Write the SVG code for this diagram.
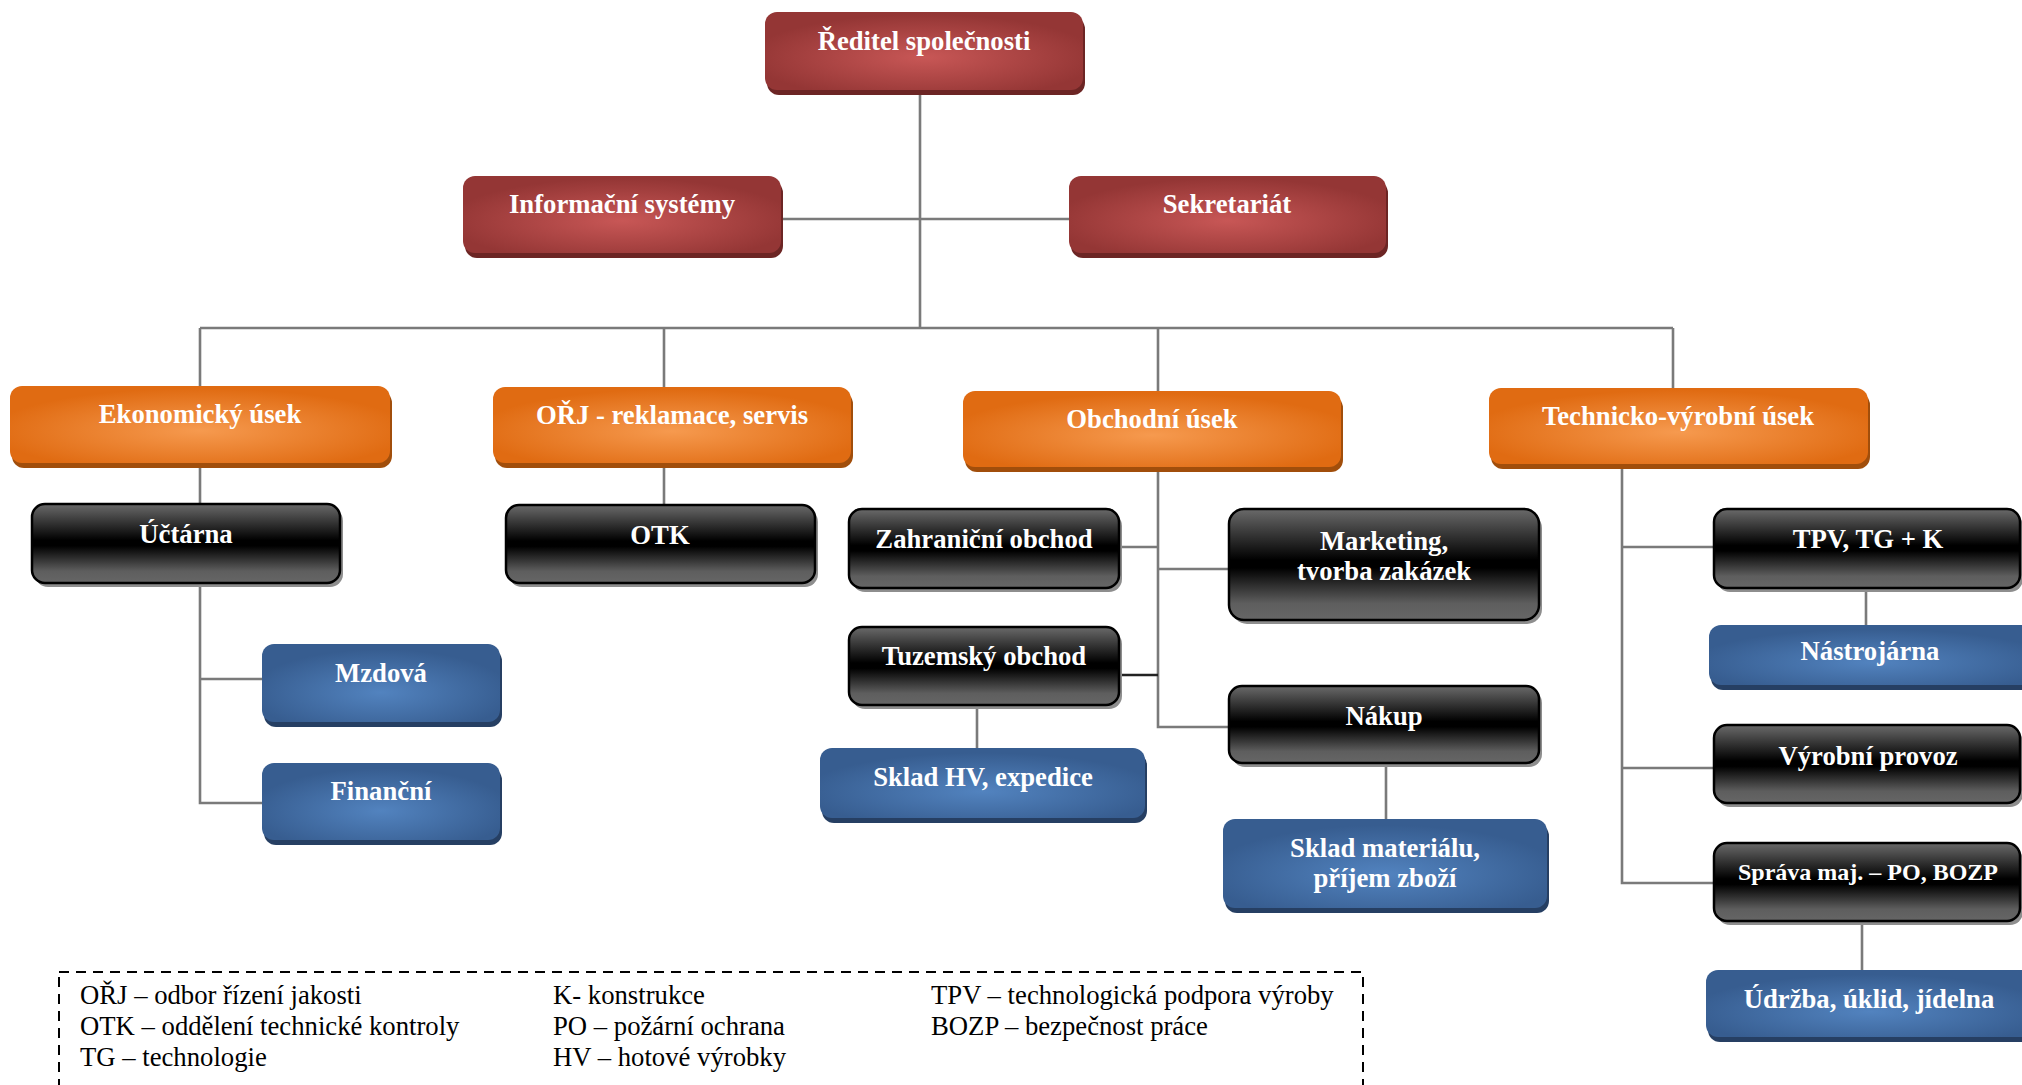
<svg xmlns="http://www.w3.org/2000/svg" width="2022" height="1085" viewBox="0 0 2022 1085">
<defs>
<radialGradient id="gRed" cx="50%" cy="58%" r="55%"><stop offset="0" stop-color="#c85756"/><stop offset="1" stop-color="#943635"/></radialGradient>
<radialGradient id="gOrange" cx="50%" cy="58%" r="55%"><stop offset="0" stop-color="#f69a4f"/><stop offset="1" stop-color="#e06b12"/></radialGradient>
<radialGradient id="gBlue" cx="50%" cy="62%" r="55%"><stop offset="0" stop-color="#5283bf"/><stop offset="1" stop-color="#375d90"/></radialGradient>
<linearGradient id="gBlack" x1="0" y1="0" x2="0" y2="1"><stop offset="0" stop-color="#6a6a6a"/><stop offset="0.46" stop-color="#000"/><stop offset="0.53" stop-color="#000"/><stop offset="0.85" stop-color="#5e5e5e"/><stop offset="1" stop-color="#666"/></linearGradient>
</defs>
<style>
.red .sh{fill:#6c2524}.red .bd{fill:url(#gRed)}
.orange .sh{fill:#a14e0b}.orange .bd{fill:url(#gOrange)}
.blue .sh{fill:#263f63}.blue .bd{fill:url(#gBlue)}
.black .sh{fill:#8e8e8e}.black .bd{fill:url(#gBlack);stroke:#000;stroke-width:2.5}
text.t{font-family:"Liberation Serif","Times New Roman",serif;font-weight:bold;font-size:26.7px;fill:#fff;text-anchor:middle}
text.l{font-family:"Liberation Serif","Times New Roman",serif;font-size:26.7px;fill:#000}
#connectors path{fill:none;stroke:#7a7a7a;stroke-width:2.6}
</style>
<rect width="2022" height="1085" fill="#fff"/>
<g id="connectors">
<path d="M920 93V328M781 219H1069M200 328H1673M200 328V386M664 328V387M1158 328V391M1673 328V388"/>
<path d="M200 468V504M200 587V803H263M200 679H263M664 467V505"/>
<path d="M1158 471V727H1229M1119 547H1158M1158 569H1229M977 709V748M1386 767V819"/>
<path d="M1119 675H1158" style="stroke:#222"/>
<path d="M1622 468V883H1714M1622 547H1714M1622 768H1714M1866 592V625M1862 925V970"/>
</g>
<g id="n-reditel" class="red"><rect class="sh" x="767" y="17" width="318" height="78" rx="12"/><rect class="bd" x="765" y="12" width="318" height="78" rx="12"/><text class="t" x="924" y="50">Ředitel společnosti</text></g>
<g id="n-info" class="red"><rect class="sh" x="465" y="181" width="318" height="77" rx="12"/><rect class="bd" x="463" y="176" width="318" height="77" rx="12"/><text class="t" x="622" y="213">Informační systémy</text></g>
<g id="n-sekretariat" class="red"><rect class="sh" x="1071" y="181" width="317" height="77" rx="12"/><rect class="bd" x="1069" y="176" width="317" height="77" rx="12"/><text class="t" x="1227" y="213">Sekretariát</text></g>
<g id="n-ekonomicky" class="orange"><rect class="sh" x="12" y="391" width="380" height="77" rx="12"/><rect class="bd" x="10" y="386" width="380" height="77" rx="12"/><text class="t" x="200" y="423">Ekonomický úsek</text></g>
<g id="n-orj" class="orange"><rect class="sh" x="495" y="392" width="358" height="76" rx="12"/><rect class="bd" x="493" y="387" width="358" height="76" rx="12"/><text class="t" x="672" y="424">OŘJ - reklamace, servis</text></g>
<g id="n-obchodni" class="orange"><rect class="sh" x="965" y="396" width="378" height="76" rx="12"/><rect class="bd" x="963" y="391" width="378" height="76" rx="12"/><text class="t" x="1152" y="428">Obchodní úsek</text></g>
<g id="n-technicko" class="orange"><rect class="sh" x="1491" y="393" width="379" height="76" rx="12"/><rect class="bd" x="1489" y="388" width="379" height="76" rx="12"/><text class="t" x="1678" y="425">Technicko-výrobní úsek</text></g>
<g id="n-uctarna" class="black"><rect class="sh" x="35" y="508" width="308" height="79" rx="13"/><rect class="bd" x="32" y="504" width="308" height="79" rx="13"/><text class="t" x="186" y="543">Účtárna</text></g>
<g id="n-otk" class="black"><rect class="sh" x="509" y="509" width="309" height="78" rx="13"/><rect class="bd" x="506" y="505" width="309" height="78" rx="13"/><text class="t" x="660" y="544">OTK</text></g>
<g id="n-zahranicni" class="black"><rect class="sh" x="852" y="513" width="270" height="79" rx="13"/><rect class="bd" x="849" y="509" width="270" height="79" rx="13"/><text class="t" x="984" y="548">Zahraniční obchod</text></g>
<g id="n-tuzemsky" class="black"><rect class="sh" x="852" y="631" width="270" height="78" rx="13"/><rect class="bd" x="849" y="627" width="270" height="78" rx="13"/><text class="t" x="984" y="665">Tuzemský obchod</text></g>
<g id="n-marketing" class="black"><rect class="sh" x="1232" y="513" width="310" height="111" rx="15"/><rect class="bd" x="1229" y="509" width="310" height="111" rx="15"/><text class="t" x="1384" y="550">Marketing,</text><text class="t" x="1384" y="580">tvorba zakázek</text></g>
<g id="n-nakup" class="black"><rect class="sh" x="1232" y="690" width="310" height="77" rx="13"/><rect class="bd" x="1229" y="686" width="310" height="77" rx="13"/><text class="t" x="1384" y="725">Nákup</text></g>
<g id="n-tpv" class="black"><rect class="sh" x="1717" y="513" width="306" height="79" rx="13"/><rect class="bd" x="1714" y="509" width="306" height="79" rx="13"/><text class="t" x="1868" y="548">TPV, TG + K</text></g>
<g id="n-vyrobni" class="black"><rect class="sh" x="1717" y="729" width="306" height="78" rx="13"/><rect class="bd" x="1714" y="725" width="306" height="78" rx="13"/><text class="t" x="1868" y="765">Výrobní provoz</text></g>
<g id="n-sprava" class="black"><rect class="sh" x="1717" y="847" width="306" height="78" rx="13"/><rect class="bd" x="1714" y="843" width="306" height="78" rx="13"/><text class="t" x="1868" y="880" style="font-size:24px">Správa maj. – PO, BOZP</text></g>
<g id="n-mzdova" class="blue"><rect class="sh" x="264" y="649" width="238" height="78" rx="12"/><rect class="bd" x="262" y="644" width="238" height="78" rx="12"/><text class="t" x="381" y="682">Mzdová</text></g>
<g id="n-financni" class="blue"><rect class="sh" x="264" y="768" width="238" height="77" rx="12"/><rect class="bd" x="262" y="763" width="238" height="77" rx="12"/><text class="t" x="381" y="800">Finanční</text></g>
<g id="n-skladhv" class="blue"><rect class="sh" x="822" y="753" width="325" height="70" rx="12"/><rect class="bd" x="820" y="748" width="325" height="70" rx="12"/><text class="t" x="983" y="786">Sklad HV, expedice</text></g>
<g id="n-skladmat" class="blue"><rect class="sh" x="1225" y="824" width="324" height="89" rx="12"/><rect class="bd" x="1223" y="819" width="324" height="89" rx="12"/><text class="t" x="1385" y="857">Sklad materiálu,</text><text class="t" x="1385" y="887">příjem zboží</text></g>
<g id="n-nastrojarna" class="blue"><rect class="sh" x="1711" y="630" width="330" height="60" rx="12"/><rect class="bd" x="1709" y="625" width="330" height="60" rx="12"/><text class="t" x="1870" y="660">Nástrojárna</text></g>
<g id="n-udrzba" class="blue"><rect class="sh" x="1708" y="975" width="330" height="67" rx="12"/><rect class="bd" x="1706" y="970" width="330" height="67" rx="12"/><text class="t" x="1869" y="1008">Údržba, úklid, jídelna</text></g>
<g id="legend">
<rect x="59" y="972" width="1304" height="140" fill="none" stroke="#000" stroke-width="2" stroke-dasharray="10,7"/>
<text class="l" x="80" y="1004">OŘJ – odbor řízení jakosti</text>
<text class="l" x="80" y="1035">OTK – oddělení technické kontroly</text>
<text class="l" x="80" y="1066">TG – technologie</text>
<text class="l" x="553" y="1004">K- konstrukce</text>
<text class="l" x="553" y="1035">PO – požární ochrana</text>
<text class="l" x="553" y="1066">HV – hotové výrobky</text>
<text class="l" x="931" y="1004">TPV – technologická podpora výroby</text>
<text class="l" x="931" y="1035">BOZP – bezpečnost práce</text>
</g>
</svg>
